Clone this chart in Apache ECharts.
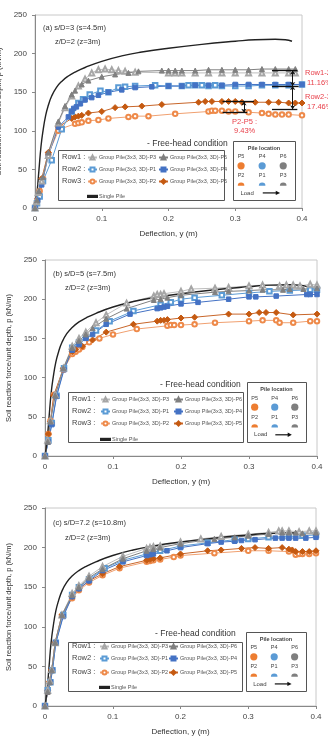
<!DOCTYPE html>
<html><head><meta charset="utf-8">
<script src="https://cdn.jsdelivr.net/npm/echarts@6/dist/echarts.min.js"></script>
<style>html,body{margin:0;padding:0;background:#fff}#c{width:328px;height:739px}</style>
</head><body><div id="c"></div>
<script>
const xTicks = [0, 0.1, 0.2, 0.3, 0.4];
const yTicks = [0, 50, 100, 150, 200, 250];
const seriesNames = ['Group Pile(3x3, 3D)-P3','Group Pile(3x3, 3D)-P6','Group Pile(3x3, 3D)-P1','Group Pile(3x3, 3D)-P4','Group Pile(3x3, 3D)-P2','Group Pile(3x3, 3D)-P5','Single Pile'];
const rowLabels = ['Row1 :','Row2 :','Row3 :'];
const panelTitles = ['(a) s/D=3 (s=4.5m)','(b) s/D=5 (s=7.5m)','(c) s/D=7.2 (s=10.8m)'];
const depthLabel = 'z/D=2 (z=3m)';

const singlePile = [[0,0],[0.003,20],[0.006,50],[0.009,80],[0.012,100],[0.016,120],[0.02,133],[0.025,145],[0.032,156],[0.04,164],[0.05,171],[0.06,176],[0.075,182],[0.1,190],[0.13,197],[0.16,202],[0.2,207],[0.25,212],[0.3,216],[0.33,218],[0.36,218.5],[0.375,218],[0.385,216]];

const a_P3 = [[0,0],[0.002,8],[0.005,20],[0.01,35],[0.02,68],[0.035,110],[0.045,130],[0.055,145],[0.065,158],[0.075,167],[0.085,175],[0.095,179],[0.105,180],[0.115,179],[0.125,178],[0.135,177],[0.15,176],[0.2,175],[0.21,175],[0.22,175],[0.24,175],[0.26,175],[0.28,175],[0.3,175],[0.32,175],[0.34,175],[0.36,175],[0.38,175],[0.39,175]];
const a_P6 = [[0,0],[0.003,10],[0.006,22],[0.012,40],[0.02,72],[0.035,112],[0.045,132],[0.055,147],[0.06,152],[0.07,160],[0.08,165],[0.1,170],[0.12,173],[0.14,175],[0.155,177],[0.19,178],[0.2,178],[0.21,178],[0.22,178],[0.24,178],[0.26,179],[0.28,179],[0.3,179],[0.32,179],[0.34,180],[0.36,180],[0.38,180],[0.39,180]];
const a_P1 = [[0,0],[0.003,6],[0.007,15],[0.012,35],[0.025,62],[0.04,102],[0.055,125],[0.065,136],[0.072,141],[0.082,147],[0.098,152],[0.11,150],[0.125,156],[0.135,157],[0.15,158],[0.18,159],[0.2,158],[0.22,158],[0.23,159],[0.24,159],[0.25,159],[0.26,158],[0.27,159],[0.28,158],[0.3,158],[0.32,158],[0.34,159],[0.36,159],[0.38,159],[0.4,160]];
const a_P4 = [[0,0],[0.004,10],[0.01,30],[0.02,68],[0.035,105],[0.05,118],[0.055,125],[0.058,129],[0.062,131],[0.068,135],[0.075,140],[0.085,143],[0.095,146],[0.11,150],[0.13,153],[0.15,156],[0.175,157],[0.2,158],[0.22,158],[0.24,159],[0.26,159],[0.28,159],[0.3,160],[0.32,160],[0.34,160],[0.36,160],[0.38,160],[0.4,160]];
const a_P2 = [[0,0],[0.003,8],[0.007,22],[0.012,38],[0.02,70],[0.035,100],[0.04,103],[0.06,109],[0.065,110],[0.07,111],[0.08,113],[0.095,114],[0.11,116],[0.14,118],[0.15,119],[0.17,119],[0.21,122],[0.26,125],[0.265,126],[0.27,126],[0.28,126],[0.29,125],[0.3,125],[0.32,124],[0.34,123],[0.35,122],[0.36,121],[0.37,121],[0.38,121],[0.4,120]];
const a_P5 = [[0,0],[0.004,12],[0.01,38],[0.02,72],[0.035,105],[0.055,116],[0.06,118],[0.065,119],[0.07,120],[0.08,123],[0.1,125],[0.12,130],[0.135,131],[0.16,132],[0.19,134],[0.245,137],[0.255,138],[0.265,138],[0.28,138],[0.29,138],[0.3,138],[0.31,137],[0.33,137],[0.35,137],[0.365,137],[0.38,136],[0.39,136],[0.4,136]];

const b_P3 = [[0,0],[0.004,20],[0.008,45],[0.015,78],[0.027,112],[0.04,140],[0.05,150],[0.06,158],[0.075,170],[0.09,180],[0.12,195],[0.16,204],[0.165,206],[0.17,206],[0.175,207],[0.2,210],[0.215,213],[0.25,214],[0.27,215],[0.3,217],[0.32,218],[0.345,217],[0.355,218],[0.365,218],[0.375,217],[0.39,219],[0.4,218]];
const b_P6 = [[0,0],[0.004,18],[0.008,44],[0.015,77],[0.027,112],[0.04,138],[0.05,147],[0.06,155],[0.07,163],[0.09,175],[0.12,188],[0.16,199],[0.17,200],[0.18,202],[0.2,205],[0.25,209],[0.27,210],[0.3,211],[0.32,212],[0.35,212],[0.36,213],[0.38,213],[0.4,214]];
const b_P1 = [[0,0],[0.005,20],[0.01,42],[0.017,77],[0.028,112],[0.04,138],[0.05,145],[0.06,151],[0.075,160],[0.095,172],[0.13,185],[0.17,193],[0.185,196],[0.2,200],[0.22,202],[0.26,205],[0.3,208],[0.33,210],[0.36,211],[0.39,212],[0.4,212]];
const b_P4 = [[0,0],[0.005,18],[0.01,40],[0.017,76],[0.028,110],[0.04,135],[0.05,142],[0.06,150],[0.07,155],[0.09,168],[0.125,181],[0.165,188],[0.17,189],[0.175,190],[0.18,191],[0.2,194],[0.225,196],[0.27,200],[0.3,203],[0.31,203],[0.34,204],[0.385,206],[0.39,206],[0.4,206]];
const b_P2 = [[0,0],[0.005,28],[0.008,45],[0.013,78],[0.027,110],[0.04,130],[0.045,133],[0.05,136],[0.055,139],[0.065,145],[0.08,150],[0.1,155],[0.135,162],[0.18,166],[0.185,167],[0.19,167],[0.2,167],[0.22,168],[0.25,170],[0.3,172],[0.32,173],[0.34,173],[0.345,170],[0.365,170],[0.39,172],[0.4,172]];
const b_P5 = [[0,0],[0.005,28],[0.008,44],[0.013,77],[0.027,112],[0.04,133],[0.045,136],[0.055,140],[0.07,148],[0.09,158],[0.13,168],[0.165,172],[0.17,173],[0.175,173],[0.18,174],[0.2,176],[0.22,177],[0.27,181],[0.3,181],[0.315,183],[0.325,183],[0.34,183],[0.365,180],[0.4,181]];

const c_P3 = [[0,0],[0.004,20],[0.007,32],[0.01,46],[0.015,80],[0.025,115],[0.04,142],[0.05,152],[0.065,164],[0.085,176],[0.115,189],[0.15,199],[0.155,200],[0.16,201],[0.17,202],[0.2,207],[0.23,211],[0.26,214],[0.3,217],[0.33,219],[0.345,221],[0.35,221],[0.36,221],[0.375,220],[0.39,221],[0.4,221]];
const c_P6 = [[0,0],[0.004,18],[0.007,30],[0.01,45],[0.015,80],[0.025,115],[0.04,140],[0.05,150],[0.065,162],[0.085,173],[0.115,186],[0.15,196],[0.16,198],[0.17,200],[0.2,205],[0.25,211],[0.28,213],[0.3,215],[0.33,217],[0.35,219],[0.36,219],[0.37,219],[0.38,218],[0.4,219]];
const c_P1 = [[0,0],[0.004,20],[0.008,30],[0.011,45],[0.016,80],[0.027,115],[0.04,140],[0.05,150],[0.065,160],[0.088,174],[0.115,184],[0.15,192],[0.155,193],[0.17,196],[0.2,202],[0.24,206],[0.28,210],[0.3,211],[0.33,213],[0.36,214],[0.38,215],[0.4,216]];
const c_P4 = [[0,0],[0.004,18],[0.008,30],[0.011,45],[0.016,80],[0.027,113],[0.04,138],[0.05,148],[0.065,158],[0.085,171],[0.115,182],[0.15,190],[0.155,191],[0.16,192],[0.18,196],[0.2,200],[0.24,205],[0.26,207],[0.28,208],[0.29,209],[0.31,210],[0.34,212],[0.35,212],[0.36,212],[0.37,212],[0.385,212],[0.4,213]];
const c_P2 = [[0,0],[0.004,18],[0.007,30],[0.01,45],[0.015,80],[0.025,114],[0.04,136],[0.05,146],[0.065,156],[0.085,165],[0.11,174],[0.15,182],[0.155,183],[0.16,184],[0.17,185],[0.19,188],[0.2,190],[0.25,193],[0.3,196],[0.33,196],[0.36,195],[0.37,191],[0.375,192],[0.38,192],[0.39,192],[0.4,193]];
const c_P5 = [[0,0],[0.004,20],[0.007,31],[0.01,46],[0.015,80],[0.025,115],[0.04,138],[0.05,148],[0.065,158],[0.085,167],[0.11,176],[0.15,184],[0.155,185],[0.16,186],[0.17,187],[0.2,192],[0.24,196],[0.26,197],[0.29,199],[0.31,200],[0.33,199],[0.35,200],[0.36,198],[0.365,197],[0.37,195],[0.38,195],[0.39,195],[0.4,196]];

// annotation values for panel (a): [x1, y1, x2, y2]
const annoLinesA = [[0.355,178,0.393,178],[0.355,158,0.395,158],[0.355,128,0.393,128],[0.281,138,0.328,138],[0.281,123.5,0.318,123.5]];
const annoArrowsA = [[0.386,178,0.386,158],[0.386,158,0.386,128],[0.313,138,0.313,123.5]];
const annoTextA = [['Row1-2',305,73],['11.16%',307,83],['Row2-3',305,97],['17.46%',307,107],['P2-P5 :',232,122],['9.43%',234,131]];

const FONT = 'Liberation Sans, Arial, sans-serif';
const styles = [
  {symbol:'emptyTriangle', color:'#a6a6a6', line:'#bdbdbd'},
  {symbol:'triangle', color:'#808080', line:'#808080'},
  {symbol:'emptyRect', color:'#5b9bd5', line:'#5b9bd5'},
  {symbol:'rect', color:'#4472c4', line:'#4472c4'},
  {symbol:'emptyCircle', color:'#ee8a4a', line:'#f0a070'},
  {symbol:'diamond', color:'#c55a11', line:'#c8662a'},
  {symbol:'none', color:'#222', line:'#222'}
];
const panelData = [
  [a_P3,a_P6,a_P1,a_P4,a_P2,a_P5,singlePile],
  [b_P3,b_P6,b_P1,b_P4,b_P2,b_P5,singlePile],
  [c_P3,c_P6,c_P1,c_P4,c_P2,c_P5,singlePile]
];
const grids = [
  {left:35, width:267, top:15, height:193},
  {left:45, width:272, top:260, height:196},
  {left:45, width:271, top:508, height:198}
];
const yNameGap = [29, 31, 31];
const legendLayout = [
  {rowX:62, col1:87, col2:158, rows:[157,169,181,194], box:[58,150,166,50], free:[147,144], pile:[233,141,62,59], title:[43,28], depth:[55,42]},
  {rowX:72, col1:100, col2:173, rows:[399,411,423,437], box:[68,392,175,50], free:[160,385], pile:[247,382,59,60], title:[53,274], depth:[65,288]},
  {rowX:72, col1:99, col2:168, rows:[646,658,672,685], box:[68,642,174,49], free:[155,634], pile:[246,632,60,59], title:[53,523], depth:[65,538]}
];

const option = {animation:false, backgroundColor:'#fff', grid:[], xAxis:[], yAxis:[], series:[], legend:[], graphic:[]};

grids.forEach((g,i)=>{
  option.grid.push({left:g.left, top:g.top, width:g.width, height:g.height, show:true, borderColor:'#c8c8c8', borderWidth:1, containLabel:false, outerBoundsMode:'none'});
  option.xAxis.push({type:'value', gridIndex:i, min:xTicks[0], max:xTicks[xTicks.length-1], interval:0.1,
    name:'Deflection, y (m)', nameLocation:'middle', nameGap:22, nameTextStyle:{fontSize:8, color:'#333', fontFamily:FONT},
    axisLine:{lineStyle:{color:'#888'}}, axisTick:{show:true, length:3, inside:false, lineStyle:{color:'#888'}},
    axisLabel:{fontSize:8, color:'#444', margin:7, fontFamily:FONT}, splitLine:{show:false}});
  option.yAxis.push({type:'value', gridIndex:i, min:yTicks[0], max:yTicks[yTicks.length-1], interval:50,
    name:'Soil reaction force/unit depth, p (kN/m)', nameLocation:'middle', nameGap:yNameGap[i], nameRotate:90,
    nameTextStyle:{fontSize:7.5, color:'#333', fontFamily:FONT},
    axisLine:{show:true, lineStyle:{color:'#888'}}, axisTick:{show:true, length:3, lineStyle:{color:'#888'}},
    axisLabel:{fontSize:8, color:'#444', margin:8, fontFamily:FONT}, splitLine:{show:false}});
  const order = [4,5,2,3,0,1,6];
  order.forEach(k=>{
    const s = styles[k];
    option.series.push({type:'line', name:seriesNames[k], xAxisIndex:i, yAxisIndex:i, data:panelData[i][k],
      symbol:s.symbol, symbolSize: k===5?6:(k===0||k===1?5:4.5), showSymbol:s.symbol!=='none', smooth:k===6,
      lineStyle:{color:s.line, width:k===6?1.4:1}, itemStyle:{color:s.color, borderColor:s.color, borderWidth:1}});
  });
  const L = legendLayout[i];
  const legItems = [[0,L.col1,L.rows[0]],[1,L.col2,L.rows[0]],[2,L.col1,L.rows[1]],[3,L.col2,L.rows[1]],[4,L.col1,L.rows[2]],[5,L.col2,L.rows[2]]];
  legItems.forEach(([k,x,y])=>{
    option.legend.push({left:x, top:y-2.5, padding:0, itemWidth:9, itemHeight:5, itemGap:0, selectedMode:false,
      textStyle:{fontSize:5.5, color:'#555', fontFamily:FONT, padding:[0,0,0,-3]}, data:[seriesNames[k]]});
  });
  option.legend.push({left:L.col1, top:L.rows[3]-0.6, padding:0, itemWidth:9, itemHeight:1.2, itemGap:0, selectedMode:false,
    textStyle:{fontSize:5.5, color:'#555', fontFamily:FONT, padding:[0,0,0,-3]},
    data:[{name:seriesNames[6], icon:'rect', itemStyle:{color:'#222'}}]});
  // legend frame + row labels
  option.graphic.push({type:'rect', shape:{x:L.box[0]+0.5, y:L.box[1]+0.5, width:L.box[2], height:L.box[3]}, style:{fill:'none', stroke:'#555', lineWidth:1}, z:100});
  rowLabels.forEach((t,r)=>{
    option.graphic.push({type:'text', x:L.rowX, y:L.rows[r], style:{text:t, font:'7.5px '+FONT, fill:'#444', verticalAlign:'middle'}, z:100});
  });
  option.graphic.push({type:'text', x:L.free[0], y:L.free[1], style:{text:'- Free-head condition', font:'8.5px '+FONT, fill:'#333', verticalAlign:'middle'}, z:100});
  option.graphic.push({type:'text', x:L.title[0], y:L.title[1], style:{text:panelTitles[i], font:'7.5px '+FONT, fill:'#333', verticalAlign:'middle'}, z:100});
  option.graphic.push({type:'text', x:L.depth[0], y:L.depth[1], style:{text:depthLabel, font:'7.5px '+FONT, fill:'#333', verticalAlign:'middle'}, z:100});
  // pile location box
  const [px,py,pw,ph] = L.pile;
  option.graphic.push({type:'rect', shape:{x:px+0.5, y:py+0.5, width:pw, height:ph}, style:{fill:'#fff', stroke:'#555', lineWidth:1}, z:100});
  option.graphic.push({type:'text', x:px+pw/2, y:py+ph*0.12, style:{text:'Pile location', font:'bold 5.5px '+FONT, fill:'#444', align:'center', verticalAlign:'middle'}, z:101});
  const cols = [0.13,0.47,0.81].map(f=>px+f*pw);
  const topNames = ['P5','P4','P6'], botNames = ['P2','P1','P3'];
  const pcol = ['#ed7d31','#5b9bd5','#7f7f7f'];
  cols.forEach((cx,j)=>{
    option.graphic.push({type:'text', x:cx, y:py+ph*0.27, style:{text:topNames[j], font:'5.5px '+FONT, fill:'#444', align:'center', verticalAlign:'middle'}, z:101});
    option.graphic.push({type:'circle', shape:{cx:cx, cy:py+ph*0.42, r:3.6}, style:{fill:pcol[j]}, z:101});
    option.graphic.push({type:'text', x:cx, y:py+ph*0.59, style:{text:botNames[j], font:'5.5px '+FONT, fill:'#444', align:'center', verticalAlign:'middle'}, z:101});
    option.graphic.push({type:'sector', shape:{cx:cx, cy:py+ph*0.76, r0:0, r:3.3, startAngle:Math.PI, endAngle:2*Math.PI}, style:{fill:pcol[j]}, z:101});
  });
  option.graphic.push({type:'text', x:px+pw*0.12, y:py+ph*0.88, style:{text:'Load', font:'6px '+FONT, fill:'#444', verticalAlign:'middle'}, z:101});
  option.graphic.push({type:'line', shape:{x1:px+pw*0.48, y1:py+ph*0.88, x2:px+pw*0.70, y2:py+ph*0.88}, style:{stroke:'#111', lineWidth:1.2}, z:101});
  option.graphic.push({type:'polygon', shape:{points:[[px+pw*0.76,py+ph*0.88],[px+pw*0.69,py+ph*0.88-2.2],[px+pw*0.69,py+ph*0.88+2.2]]}, style:{fill:'#111'}, z:101});
});

// annotation markLines for panel (a)
option.series.push({type:'line', xAxisIndex:0, yAxisIndex:0, data:[], silent:true,
  markLine:{silent:true, animation:false, symbol:['none','none'], label:{show:false}, lineStyle:{color:'#111', width:1.3, type:'solid'},
    data: annoLinesA.map(a=>[{coord:[a[0],a[1]]},{coord:[a[2],a[3]]}])}});
option.series.push({type:'line', xAxisIndex:0, yAxisIndex:0, data:[], silent:true,
  markLine:{silent:true, animation:false, symbol:['arrow','arrow'], symbolSize:4, label:{show:false}, lineStyle:{color:'#111', width:1, type:'solid'},
    data: annoArrowsA.map(a=>[{coord:[a[0],a[1]]},{coord:[a[2],a[3]]}])}});
annoTextA.forEach(([t,x,y])=>{
  option.graphic.push({type:'text', x:x, y:y, style:{text:t, font:'7.5px '+FONT, fill:'#e8404a', verticalAlign:'middle'}, z:100});
});

const chart = echarts.init(document.getElementById('c'), null, {renderer:'canvas'});
chart.setOption(option);
</script></body></html>
